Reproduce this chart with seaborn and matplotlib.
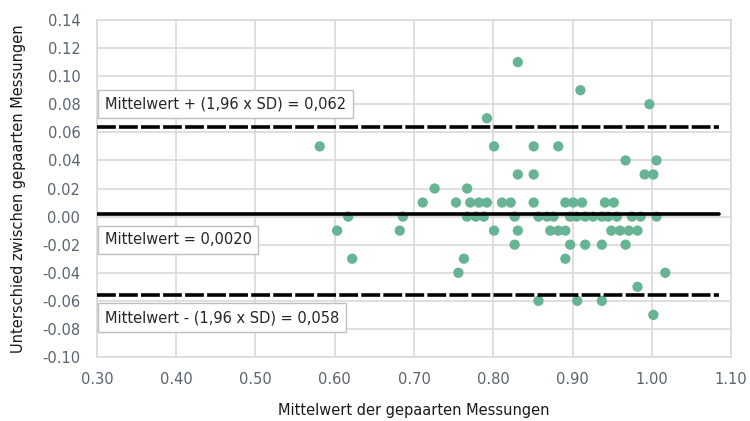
import matplotlib
matplotlib.use("Agg")
import matplotlib.pyplot as plt
import seaborn as sns
import pandas as pd

# ---- data ----
mean_x = [0.581, 0.617, 0.603, 0.622, 0.686, 0.682, 0.711, 0.726, 0.767, 0.753,
          0.771, 0.782, 0.792, 0.811, 0.822, 0.851,
          0.891, 0.901, 0.912, 0.941, 0.952,
          0.767, 0.778, 0.788, 0.827, 0.857, 0.868, 0.876, 0.897, 0.905, 0.916,
          0.926, 0.937, 0.945, 0.956, 0.975, 0.986, 1.006,
          0.801, 0.831, 0.872, 0.882, 0.891, 0.949, 0.960, 0.971, 0.982,
          0.827, 0.897, 0.916, 0.937, 0.967,
          0.763, 0.891,
          0.756, 1.017,
          0.982,
          0.857, 0.906, 0.937,
          1.002,
          0.831, 0.851, 0.991, 1.002,
          0.967, 1.006,
          0.801, 0.851, 0.882,
          0.792, 0.997, 0.910, 0.831]
diff_y = [0.05, 0.00, -0.01, -0.03, 0.00, -0.01, 0.01, 0.02, 0.02, 0.01,
          0.01, 0.01, 0.01, 0.01, 0.01, 0.01,
          0.01, 0.01, 0.01, 0.01, 0.01,
          0.00, 0.00, 0.00, 0.00, 0.00, 0.00, 0.00, 0.00, 0.00, 0.00,
          0.00, 0.00, 0.00, 0.00, 0.00, 0.00, 0.00,
          -0.01, -0.01, -0.01, -0.01, -0.01, -0.01, -0.01, -0.01, -0.01,
          -0.02, -0.02, -0.02, -0.02, -0.02,
          -0.03, -0.03,
          -0.04, -0.04,
          -0.05,
          -0.06, -0.06, -0.06,
          -0.07,
          0.03, 0.03, 0.03, 0.03,
          0.04, 0.04,
          0.05, 0.05, 0.05,
          0.07, 0.08, 0.09, 0.11]

mean_diff = 0.002
upper_loa = 0.064
lower_loa = -0.056
line_x = [0.30, 1.085]

label_upper = "Mittelwert + (1,96 x SD) = 0,062"
label_mean = "Mittelwert = 0,0020"
label_lower = "Mittelwert - (1,96 x SD) = 0,058"

x_ticks = [0.30, 0.40, 0.50, 0.60, 0.70, 0.80, 0.90, 1.00, 1.10]
y_ticks = [0.14, 0.12, 0.10, 0.08, 0.06, 0.04, 0.02, 0.00, -0.02, -0.04, -0.06, -0.08, -0.10]

df = pd.DataFrame({"x": mean_x, "y": diff_y})

sns.set_style("white")
plt.rcParams["font.family"] = ["DejaVu Sans"]

fig = plt.figure(figsize=(7.5, 4.21), dpi=100)
ax = fig.add_axes([0.1293, 0.152, 0.8454, 0.8005])

ax.set_xlim(0.30, 1.10)
ax.set_ylim(-0.10, 0.14)
ax.set_xticks(x_ticks)
ax.set_yticks(y_ticks)
ax.set_xticklabels([f"{v:.2f}" for v in x_ticks])
ax.set_yticklabels([f"{v:.2f}" for v in y_ticks])
ax.grid(True, color="#d9d9d9", linewidth=1.2)
ax.set_axisbelow(True)
for s in ax.spines.values():
    s.set_color("#d9d9d9")
    s.set_linewidth(1.2)
ax.tick_params(axis="both", length=0, labelsize=10.5, labelcolor="#5a6470")
ax.tick_params(axis="x", pad=11)
ax.tick_params(axis="y", pad=12)

sns.scatterplot(data=df, x="x", y="y", ax=ax, color="#66b493", s=55,
                edgecolor="none", zorder=3)

ax.plot(line_x, [upper_loa, upper_loa], color="black", lw=2.6,
        dashes=(5.2, 0.9), zorder=4)
ax.plot(line_x, [mean_diff, mean_diff], color="black", lw=2.6, zorder=4)
ax.plot(line_x, [lower_loa, lower_loa], color="black", lw=2.6,
        dashes=(5.2, 0.9), zorder=4)

box = dict(boxstyle="square,pad=0.45", facecolor="white", edgecolor="#bfbfbf", lw=1)
ax.text(0.310, 0.0804, label_upper, fontsize=10.5, va="center", ha="left", bbox=box, zorder=5)
ax.text(0.310, -0.0164, label_mean, fontsize=10.5, va="center", ha="left", bbox=box, zorder=5)
ax.text(0.310, -0.0719, label_lower, fontsize=10.5, va="center", ha="left", bbox=box, zorder=5)

ax.set_xlabel("Mittelwert der gepaarten Messungen", fontsize=10.5, color="#1a1a1a")
ax.set_ylabel("Unterschied zwischen gepaarten Messungen", fontsize=10.5, color="#1a1a1a")
ax.xaxis.set_label_coords(0.5, -0.135)
ax.yaxis.set_label_coords(-0.112, 0.5)

fig.savefig("out.png", dpi=100)
